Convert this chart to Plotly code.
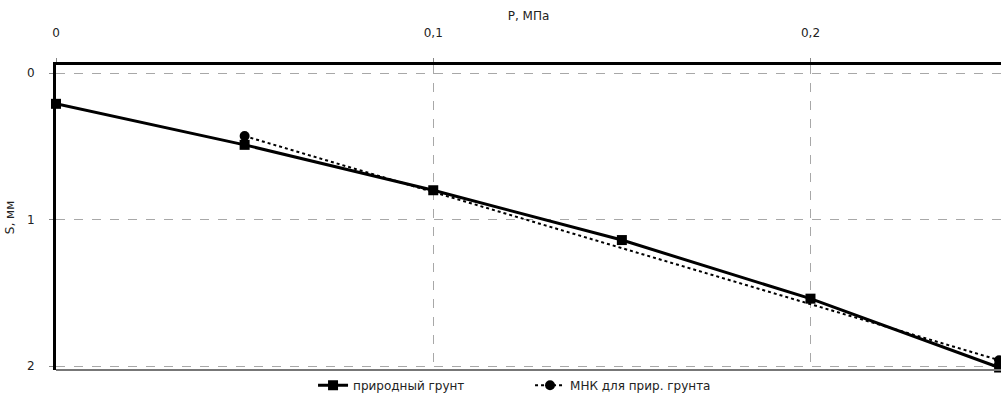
import plotly.graph_objects as go

# Нагрузка на штамп, МПа
pressure = [0, 0.05, 0.1, 0.15, 0.2, 0.25]
# Осадка природного грунта, мм
settlement = [0.21, 0.49, 0.80, 1.14, 1.54, 2.01]

# Аппроксимация методом наименьших квадратов
mnk_pressure = [0.05, 0.25]
mnk_settlement = [0.43, 1.96]

x_tickvals = [0, 0.1, 0.2]
x_ticktext = ["0", "0,1", "0,2"]
y_tickvals = [0, 1, 2]
y_ticktext = ["0", "1", "2"]

font = dict(family="DejaVu Sans, Liberation Sans, sans-serif", size=12, color="#222")

fig = go.Figure()
fig.add_trace(go.Scatter(
    x=pressure, y=settlement, name="природный грунт",
    mode="lines+markers",
    line=dict(color="black", width=3),
    marker=dict(symbol="square", size=10, color="black"),
    cliponaxis=False,
))
fig.add_trace(go.Scatter(
    x=mnk_pressure, y=mnk_settlement, name="МНК для прир. грунта",
    mode="lines+markers",
    line=dict(color="black", width=2, dash="dot"),
    marker=dict(symbol="circle", size=10, color="black"),
    cliponaxis=False,
))

fig.update_layout(
    width=1001, height=403,
    margin=dict(l=56, r=0, t=65, b=33),
    paper_bgcolor="white", plot_bgcolor="white",
    font=font,
    showlegend=True,
    legend=dict(orientation="h", x=0.272, xanchor="left", y=-0.05, yanchor="middle",
                entrywidth=172, entrywidthmode="pixels", font=font,
                itemwidth=30,
                bgcolor="rgba(0,0,0,0)"),
    xaxis=dict(
        side="top", range=[0, 0.2505],
        tickvals=x_tickvals, ticktext=x_ticktext,
        showgrid=True, gridcolor="#a8a8a8", griddash="dash", gridwidth=1,
        showline=True, linecolor="black", linewidth=3,
        ticks="outside", ticklen=4, tickcolor="#888",
        ticklabelstandoff=16,
        zeroline=False,
        title=dict(text="P, МПа", font=font, standoff=4),
    ),
    yaxis=dict(
        range=[2.027, -0.055],
        tickvals=y_tickvals, ticktext=y_ticktext,
        showgrid=True, gridcolor="#a8a8a8", griddash="dash", gridwidth=1,
        showline=True, linecolor="black", linewidth=3,
        ticks="outside", ticklen=4, tickcolor="#888",
        ticklabelstandoff=12,
        zeroline=False,
        title=dict(text="S, мм", font=font, standoff=10),
    ),
)

# Нижняя граница области построения
fig.add_shape(type="line", xref="paper", yref="paper", x0=0, x1=1, y0=0, y1=0,
              line=dict(color="#777", width=2))

fig.write_html("out.html")
